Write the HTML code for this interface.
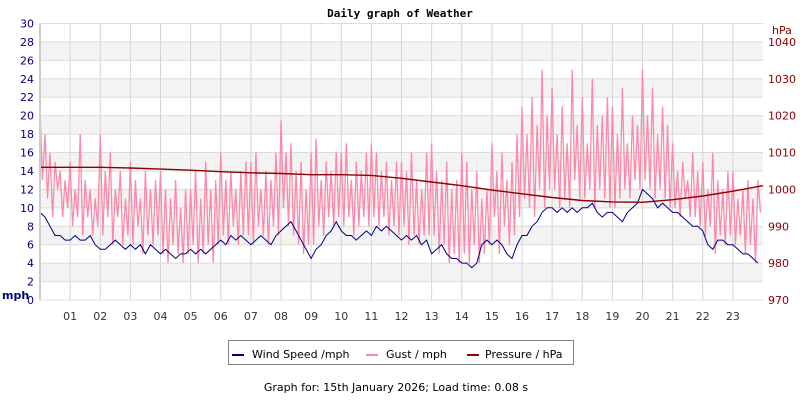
<!DOCTYPE html>
<html><head><meta charset="utf-8"><style>
body{margin:0;background:#fff;width:800px;height:400px;overflow:hidden}
svg{display:block;font-family:"DejaVu Sans","Liberation Sans",sans-serif}
</style></head><body>
<svg id="c" width="800" height="400">
<text x="400" y="17" text-anchor="middle" font-family="DejaVu Sans Mono, Liberation Mono, monospace" font-weight="bold" font-size="11">Daily graph of Weather</text>
<g id="grid"></g>
<g id="series"></g>
<g id="axes"></g>
<text x="2" y="299" font-size="11" font-weight="bold" fill="#000080">mph</text>
<text x="772" y="34" font-size="11" fill="#8b0000">hPa</text>
<g>
<rect x="228.5" y="340.5" width="345" height="24" fill="#fff" stroke="#808080"/>
<line x1="232" y1="355" x2="244" y2="355" stroke="#000080" stroke-width="2"/>
<text x="252" y="358" font-size="11">Wind Speed /mph</text>
<line x1="366" y1="355" x2="378" y2="355" stroke="#ff88aa" stroke-width="2"/>
<text x="386" y="358" font-size="11">Gust / mph</text>
<line x1="467" y1="355" x2="479" y2="355" stroke="#8b0000" stroke-width="2"/>
<text x="485" y="358" font-size="11">Pressure / hPa</text>
</g>
<text x="396" y="391" text-anchor="middle" font-size="11">Graph for: 15th January 2026; Load time: 0.08 s</text>
</svg>
<script>
const windSpeed=[9.5,9,8,7,7,6.5, 6.5,7,6.5,6.5,7,6, 5.5,5.5,6,6.5,6,5.5, 6,5.5,6,5,6,5.5, 5,5.5,5,4.5,5,5, 5.5,5,5.5,5,5.5,6, 6.5,6,7,6.5,7,6.5, 6,6.5,7,6.5,6,7, 7.5,8,8.5,7.5,6.5,5.5, 4.5,5.5,6,7,7.5,8.5, 7.5,7,7,6.5,7,7.5, 7,8,7.5,8,7.5,7, 6.5,7,6.5,7,6,6.5, 5,5.5,6,5,4.5,4.5, 4,4,3.5,4,6,6.5, 6,6.5,6,5,4.5,6, 7,7,8,8.5,9.5,10, 10,9.5,10,9.5,10,9.5, 10,10,10.5,9.5,9,9.5, 9.5,9,8.5,9.5,10,10.5, 12,11.5,11,10,10.5,10, 9.5,9.5,9,8.5,8,8, 7.5,6,5.5,6.5,6.5,6, 6,5.5,5,5,4.5,4];
const gust=[20.5,13,18,11,16,9,15,12,14,9,13,10,
15,8,12,9,18,7,13,9,12,7,11,8,
18,7,14,9,16,6,12,9,14,6,11,7,
15,6,13,8,11,5,14,7,12,6,13,7,
14,5,12,4,11,6,13,5,10,4,12,5,
12,6,14,4,11,5,15,6,12,4,13,6,
16,7,13,6,14,8,12,6,14,7,15,7,
15,6,16,8,12,7,14,6,13,8,16,7,
19.5,10,16,8,17,7,14,6,15,5,12,6,
16,6,17.5,8,13,7,15,9,14,8,16,9,
16,8,17,9,13,7,15,8,14,9,16,8,
17,9,16,8,14,9,15,7,13,8,15,7,
15,8,14,6,16,7,13,6,12,7,16,7,
17,7,14,5,13,6,15,4,12,5,13,4,
16,5,15,4,12,6,14,4,11,5,12,6,
17,9,14,5,16,8,13,6,15,7,18,9,
21,11,18,10,22,9,19,12,25,10,20,12,
23,12,18,10,21,11,17,10,25,13,19,11,
22,11,17,12,24,10,19,12,20,11,22,10,
21,10,18,11,23,12,17,11,20,13,19,12,
25,13,20,12,23,11,18,12,21,11,19,10,
17,10,14,9,15,11,13,9,16,9,14,8,
15,7,12,8,16,5,13,7,12,6,14,7,
14,6,11,7,12,5,13,6,11,4,13,9.5];
const pressure=[1006,1006,1006,1005.8,1005.5,1005.2,1004.8,1004.5,1004.3,1004,1004,1003.8,1003,1002,1001,999.8,998.8,997.8,997,996.6,996.5,997.2,998.2,999.5,1001];
const leftTicks=[0,2,4,6,8,10,12,14,16,18,20,22,24,26,28,30];
const rightTicks=[970,980,990,1000,1010,1020,1030,1040];
const hourLabels=["01","02","03","04","05","06","07","08","09","10","11","12","13","14","15","16","17","18","19","20","21","22","23"];
const NS="http://www.w3.org/2000/svg";
const L=40,R=763,T=23.5,B=300;
const xH=h=>L+(R-L)*h/24;
const yW=v=>B-(B-T)*v/30;
const yP=p=>B-(B-T)*(p-970)/75;
function mk(tag,attrs,parent){const e=document.createElementNS(NS,tag);for(const k in attrs)e.setAttribute(k,attrs[k]);parent.appendChild(e);return e;}
const grid=document.getElementById('grid'),ser=document.getElementById('series'),ax=document.getElementById('axes');
for(let v=2;v<30;v+=4){const r=mk('rect',{x:L,y:yW(v+2),width:R-L,height:yW(v)-yW(v+2),fill:'#f3f3f3'},grid);

}
leftTicks.forEach(v=>{const l=mk('line',{x1:L,x2:R,y1:yW(v),y2:yW(v),stroke:'#dcdcdc'},grid);


const t=mk('text',{x:34,y:yW(v)+4,'text-anchor':'end','font-size':11,fill:'#000080'},ax);t.textContent=v;

});
rightTicks.forEach(p=>{const t=mk('text',{x:768,y:yP(p)+4,'font-size':11,fill:'#8b0000'},ax);t.textContent=p;

});
hourLabels.forEach((s,i)=>{const x=xH(i+1);const l=mk('line',{x1:x,x2:x,y1:T,y2:B,stroke:'#d4d4d4'},grid);


const t=mk('text',{x:x,y:320,'text-anchor':'middle','font-size':11,fill:'#333'},ax);t.textContent=s;

});
const bl=mk('line',{x1:L,x2:L,y1:T,y2:B,stroke:'#ccc','stroke-width':2},ax);


function path(arr,n,yf,col,w,name){const d=arr.map((v,i)=>(i?'L':'M')+xH(i*24/n).toFixed(1)+' '+yf(v).toFixed(1)).join(' ');
const p=mk('path',{d:d,fill:'none',stroke:col,'stroke-width':w},ser);

}
path(gust,gust.length,yW,'#ff88aa',1.3,'gust-line');
path(windSpeed,windSpeed.length,yW,'#000080',1,'wind-speed-line');
path(pressure,pressure.length-1,yP,'#8b0000',1.4,'pressure-line');
</script>
</body></html>
